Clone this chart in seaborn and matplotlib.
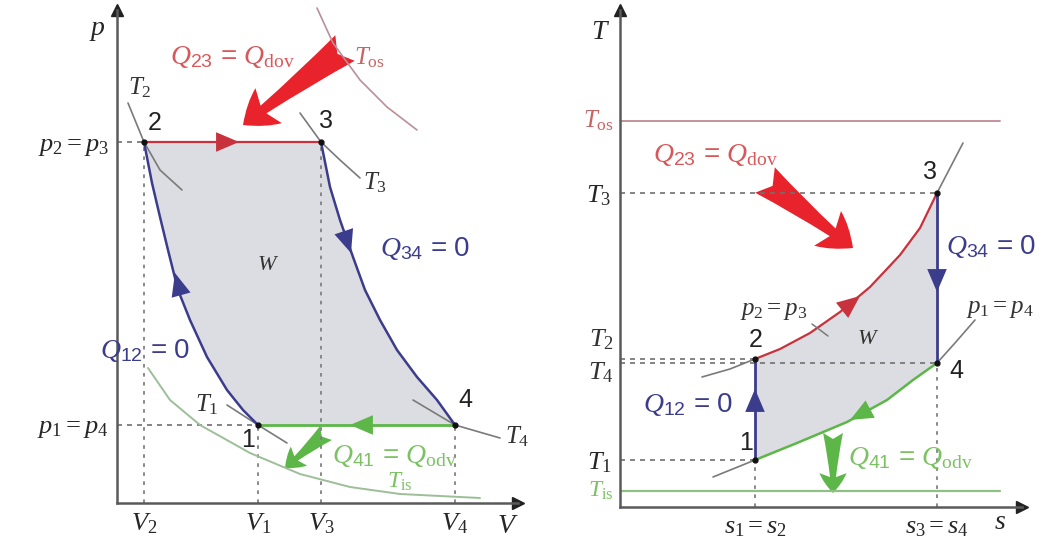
import numpy as np
import pandas as pd
import matplotlib.pyplot as plt
import seaborn as sns
from matplotlib.patches import FancyArrowPatch

# ==================== STYLE ====================
sns.set_theme(style="white")
plt.rcParams['font.family'] = ['Liberation Sans', 'DejaVu Sans']
plt.rcParams['mathtext.fontset'] = 'custom'
plt.rcParams['mathtext.it'] = 'Liberation Serif:italic'
plt.rcParams['mathtext.rm'] = 'Liberation Serif'
plt.rcParams['mathtext.sf'] = 'Liberation Sans'

NAVY = '#3c3c8c'
RED = '#c8323c'
RED_ARROW = '#e8232b'
RED_TXT = '#d8575a'
GREEN = '#5cb648'
GREEN_TXT = '#7cc264'
GREY = '#7a7a7a'
FILL = '#dcdde2'
AXIS = '#5a5a5a'

# ==================== DATA: p-V ====================
V1, V2, V3, V4 = 14.1, 2.7, 20.4, 33.8
p1, p2 = 7.8, 36.1

adiab12_V = [14.1, 12.6, 11.0, 9.0, 7.3, 6.1, 5.1, 4.3, 3.5, 2.7]
adiab12_p = [7.8, 9.3, 11.3, 14.6, 18.3, 21.3, 25.3, 28.6, 32.0, 36.1]
adiab34_V = [20.4, 21.3, 22.3, 23.6, 24.8, 26.3, 28.0, 30.0, 32.0, 33.8]
adiab34_p = [36.1, 31.6, 28.3, 24.6, 21.3, 18.3, 15.3, 12.6, 10.3, 7.8]

isoT2_V = [1.1, 2.7, 4.3, 6.5]
isoT2_p = [40.0, 36.1, 33.3, 31.3]
isoT3_V = [18.3, 20.4, 22.3, 24.3]
isoT3_p = [39.0, 36.1, 34.3, 32.5]
isoT1_V = [11.0, 14.1, 17.0]
isoT1_p = [9.8, 7.8, 6.0]
isoT4_V = [29.6, 33.8, 38.3]
isoT4_p = [10.3, 7.8, 6.5]
isoTos_V = [20.0, 21.6, 24.3, 27.0, 30.0]
isoTos_p = [49.5, 46.0, 42.3, 39.6, 37.3]
isoTis_V = [3.1, 5.3, 8.3, 13.3, 18.3, 23.3, 28.3, 36.3]
isoTis_p = [13.5, 10.3, 7.8, 5.0, 2.9, 1.6, 0.9, 0.5]

# ==================== DATA: T-s ====================
s1, s3 = 13.5, 31.7
T1, T2, T3, T4 = 4.7, 14.8, 31.4, 14.4
T_os, T_is = 38.6, 1.6

isobar23_s = [13.5, 16.0, 19.0, 22.0, 25.0, 28.0, 30.0, 31.7]
isobar23_T = [14.8, 15.8, 17.4, 19.5, 22.0, 25.2, 27.9, 31.4]
isobar23_ext_s = [[8.2, 11.0, 13.5], [31.7, 34.3]]
isobar23_ext_T = [[13.0, 13.8, 14.8], [31.4, 36.4]]
isobar41_s = [13.5, 17.7, 22.7, 26.7, 29.3, 31.7]
isobar41_T = [4.7, 6.4, 8.5, 10.7, 12.7, 14.4]
isobar41_ext_s = [[9.3, 13.5], [31.7, 33.5, 35.5]]
isobar41_ext_T = [[3.0, 4.7], [14.4, 16.4, 18.7]]


def curve(ax, x, y, color, lw=1.6):
    df = pd.DataFrame({'x': x, 'y': y})
    sns.lineplot(data=df, x='x', y='y', sort=False, estimator=None,
                 color=color, lw=lw, ax=ax)


def head(ax, tail, tip, color, size=22):
    ax.annotate('', xy=tip, xytext=tail,
                arrowprops=dict(arrowstyle='-|>,head_length=0.75,head_width=0.32',
                                color=color, lw=0,
                                mutation_scale=size, shrinkA=0, shrinkB=0))


def big_arrow(ax, tail, tip, color, size=40):
    ax.add_patch(FancyArrowPatch(tail, tip, color=color, lw=0,
                                 arrowstyle='fancy,head_length=0.55,head_width=0.75,tail_width=0.55',
                                 mutation_scale=size, shrinkA=0, shrinkB=0))


def frame(ax):
    for side in ['top', 'right']:
        ax.spines[side].set_visible(False)
    for side in ['left', 'bottom']:
        ax.spines[side].set_color(AXIS)
        ax.spines[side].set_linewidth(1.8)
    ax.plot(1, 0, '>', color='#222222', ms=9, transform=ax.transAxes, clip_on=False)
    ax.plot(0, 1, '^', color='#222222', ms=9, transform=ax.transAxes, clip_on=False)
    ax.tick_params(length=0, pad=6)
    ax.set_xlabel('')
    ax.set_ylabel('')
    ax.set_facecolor('none')


fig = plt.figure(figsize=(10.51, 5.44), dpi=100)
SERIF = dict(fontsize=18, color='#333333')
DIGIT = dict(fontsize=18, color='#222222')
QSIZE = 20
dash = dict(color='#707070', lw=1.2, ls=(0, (3, 3)))

# ==================== p-V DIAGRAM ====================
ax = fig.add_axes([117 / 1051, 41 / 544, 401 / 1051, 493 / 544])
ax.set_xlim(0, 40.1)
ax.set_ylim(0, 49.3)

cyc_V = [V2, V3] + adiab34_V[1:] + [V1] + adiab12_V[1:]
cyc_p = [p2, p2] + adiab34_p[1:] + [p1] + adiab12_p[1:]
ax.fill(cyc_V, cyc_p, color=FILL, lw=0, zorder=0)

ax.plot([0, V2], [p2, p2], **dash)
ax.plot([0, V1], [p1, p1], **dash)
for v, p in [(V2, p2), (V1, p1), (V3, p2), (V4, p1)]:
    ax.plot([v, v], [0, p], color='#808080', lw=1.3, ls=(0, (2, 3)))

curve(ax, isoT2_V, isoT2_p, GREY, 1.2)
curve(ax, isoT3_V, isoT3_p, GREY, 1.2)
curve(ax, isoT1_V, isoT1_p, GREY, 1.2)
curve(ax, isoT4_V, isoT4_p, GREY, 1.2)
curve(ax, isoTis_V, isoTis_p, '#9cbf98', 1.4)
ax.plot(isoTos_V, isoTos_p, color='#b8909a', lw=1.2, clip_on=False)

curve(ax, [V2, V3], [p2, p2], RED, 1.6)
curve(ax, [V4, V1], [p1, p1], GREEN, 2.0)
curve(ax, adiab12_V, adiab12_p, NAVY, 1.8)
curve(ax, adiab34_V, adiab34_p, NAVY, 1.8)
ax.plot([V1, V2, V3, V4], [p1, p2, p2, p1], 'o', color='#111111', ms=3.5)

head(ax, (10.6, p2), (12.2, p2), RED)
head(ax, (22.3, 28.3), (23.4, 25.0), NAVY)
head(ax, (6.6, 20.1), (5.8, 23.0), NAVY)
head(ax, (25.0, p1), (23.3, p1), GREEN)

big_arrow(ax, (22.8, 45.5), (12.6, 37.8), RED_ARROW, 42)
big_arrow(ax, (20.9, 7.0), (16.8, 3.5), GREEN, 24)

ax.set_xticks([V2, V1, V3, V4], labels=['$V_2$', '$V_1$', '$V_3$', '$V_4$'], fontsize=19)
ax.set_yticks([p1, p2], labels=['$p_1 = p_4$', '$p_2 = p_3$'], fontsize=19)
frame(ax)
ax.text(-2.0, 47.3, '$p$', ha='center', va='center', fontsize=20)
ax.text(39.1, -2.3, '$V$', ha='center', va='center', fontsize=20)
ax.text(5.3, 44.6, r'$Q_{\mathsf{23}}$ = $Q_{\rm dov}$', ha='left', va='center', fontsize=QSIZE, color=RED_TXT)
ax.text(23.7, 44.5, r'$T_{\rm os}$', ha='left', va='center', fontsize=18, color='#c86464')
ax.text(2.3, 41.5, '$T_2$', ha='center', va='center', **SERIF)
ax.text(3.8, 38.0, '2', ha='center', va='center', **DIGIT)
ax.text(20.9, 38.2, '3', ha='center', va='center', **DIGIT)
ax.text(25.8, 32.0, '$T_3$', ha='center', va='center', **SERIF)
ax.text(15.1, 23.8, '$W$', ha='center', va='center', fontsize=16, color='#333333')
ax.text(26.3, 25.5, r'$Q_{\mathsf{34}}$ = 0', ha='left', va='center', fontsize=QSIZE, color=NAVY)
ax.text(-1.7, 15.3, r'$Q_{\mathsf{12}}$ = 0', ha='left', va='center', fontsize=QSIZE, color=NAVY)
ax.text(9.0, 9.8, '$T_1$', ha='center', va='center', **SERIF)
ax.text(13.1, 6.3, '1', ha='center', va='center', **DIGIT)
ax.text(34.8, 10.3, '4', ha='center', va='center', **DIGIT)
ax.text(38.8, 6.6, '$T_4$', ha='left', va='center', **SERIF)
ax.text(21.5, 4.7, r'$Q_{\mathsf{41}}$ = $Q_{\rm odv}$', ha='left', va='center', fontsize=QSIZE, color=GREEN_TXT)
ax.text(28.3, 2.1, r'$T_{\rm is}$', ha='center', va='center', fontsize=17, color=GREEN_TXT)

# ==================== T-s DIAGRAM ====================
bx = fig.add_axes([620 / 1051, 37 / 544, 402 / 1051, 497 / 544])
bx.set_xlim(0, 40.2)
bx.set_ylim(0, 49.7)

cyc_s = isobar41_s + isobar23_s[::-1]
cyc_T = isobar41_T + isobar23_T[::-1]
bx.fill(cyc_s, cyc_T, color=FILL, lw=0, zorder=0)

bx.axhline(T_os, xmax=38.0 / 40.2, color='#c08a92', lw=1.3)
bx.axhline(T_is, xmax=38.0 / 40.2, color='#8fc083', lw=1.6)
bx.plot([0, s3], [T3, T3], **dash)
bx.plot([0, s1], [T2, T2], **dash)
bx.plot([0, s3], [T4, T4], **dash)
bx.plot([0, s1], [T1, T1], **dash)
bx.plot([s1, s1], [0, T1], color='#808080', lw=1.3, ls=(0, (2, 3)))
bx.plot([s3, s3], [0, T4], color='#808080', lw=1.3, ls=(0, (2, 3)))

for xs, ys in zip(isobar23_ext_s, isobar23_ext_T):
    curve(bx, xs, ys, GREY, 1.2)
for xs, ys in zip(isobar41_ext_s, isobar41_ext_T):
    curve(bx, xs, ys, GREY, 1.2)
curve(bx, isobar23_s, isobar23_T, RED, 1.6)
curve(bx, isobar41_s, isobar41_T, GREEN, 1.8)
curve(bx, [s1, s1], [T1, T2], NAVY, 2.0)
curve(bx, [s3, s3], [T3, T4], NAVY, 2.0)
bx.plot([s1, s1, s3, s3], [T1, T2, T3, T4], 'o', color='#111111', ms=3.5)
bx.plot([19.2, 20.8], [18.3, 17.1], color=GREY, lw=1.1)

head(bx, (s1, 9.3), (s1, 11.8), NAVY)
head(bx, (s3, 24.2), (s3, 21.5), NAVY)
head(bx, (22.0, 19.5), (24.0, 21.1), RED)
head(bx, (25.6, 10.1), (23.0, 8.7), GREEN)

big_arrow(bx, (14.5, 32.7), (23.3, 25.9), RED_ARROW, 42)
big_arrow(bx, (21.3, 7.4), (21.3, 1.4), GREEN, 26)

bx.set_xticks([s1, s3], labels=['$s_1 = s_2$', '$s_3 = s_4$'], fontsize=19)
bx.set_yticks([T1, T3], labels=['$T_1$', '$T_3$'], fontsize=19)
frame(bx)
bx.text(-1.9, 47.5, '$T$', ha='center', va='center', fontsize=20)
bx.text(38.0, -1.5, '$s$', ha='center', va='center', fontsize=20)
bx.text(-0.6, T_os, r'$T_{\rm os}$', ha='right', va='center', fontsize=18, color='#c86464')
bx.text(-0.6, T_is, r'$T_{\rm is}$', ha='right', va='center', fontsize=17, color=GREEN_TXT)
bx.text(-0.6, 16.7, '$T_2$', ha='right', va='center', fontsize=19, color='#333333')
bx.text(-0.6, 13.4, '$T_4$', ha='right', va='center', fontsize=19, color='#333333')
bx.text(3.3, 35.2, r'$Q_{\mathsf{23}}$ = $Q_{\rm dov}$', ha='left', va='center', fontsize=QSIZE, color=RED_TXT)
bx.text(31.0, 33.5, '3', ha='center', va='center', **DIGIT)
bx.text(32.6, 26.1, r'$Q_{\mathsf{34}}$ = 0', ha='left', va='center', fontsize=QSIZE, color=NAVY)
bx.text(15.4, 19.7, '$p_2 = p_3$', ha='center', va='center', **SERIF)
bx.text(38.0, 19.9, '$p_1 = p_4$', ha='center', va='center', **SERIF)
bx.text(13.6, 16.7, '2', ha='center', va='center', **DIGIT)
bx.text(24.8, 16.9, '$W$', ha='center', va='center', fontsize=16, color='#333333')
bx.text(33.6, 13.6, '4', ha='center', va='center', **DIGIT)
bx.text(2.3, 10.2, r'$Q_{\mathsf{12}}$ = 0', ha='left', va='center', fontsize=QSIZE, color=NAVY)
bx.text(12.6, 6.4, '1', ha='center', va='center', **DIGIT)
bx.text(22.8, 4.9, r'$Q_{\mathsf{41}}$ = $Q_{\rm odv}$', ha='left', va='center', fontsize=QSIZE, color=GREEN_TXT)

plt.savefig('out.png', dpi=100)
